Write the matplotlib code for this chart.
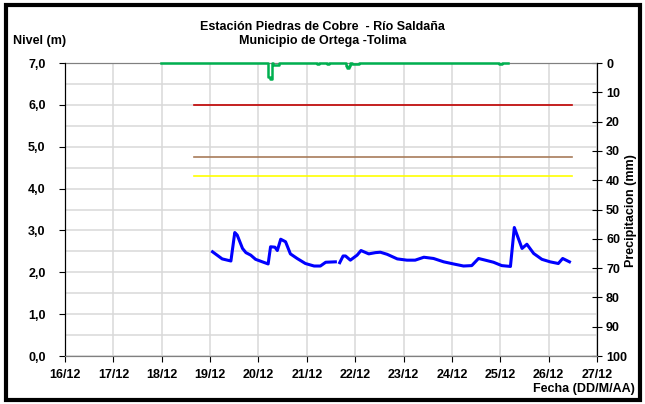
import numpy as np
import matplotlib
matplotlib.use("Agg")
import matplotlib.pyplot as plt
from matplotlib.patches import Rectangle

plt.rcParams['font.family'] = ['Liberation Sans', 'DejaVu Sans']
plt.rcParams['font.weight'] = 'bold'

# nivel del rio (dia de diciembre, m)
nivel_dia = [19.05, 19.25, 19.43, 19.51, 19.56, 19.67, 19.74, 19.84, 19.94, 20.08,
             20.20, 20.25, 20.34, 20.39, 20.46, 20.56, 20.66, 20.80, 20.97, 21.15,
             21.28, 21.39, 21.59, 21.63, 21.68, 21.75, 21.80, 21.90, 22.04, 22.12,
             22.28, 22.42, 22.52, 22.66, 22.87, 23.07, 23.24, 23.42, 23.62, 23.83,
             24.03, 24.24, 24.41, 24.55, 24.69, 24.86, 25.03, 25.21, 25.29, 25.45,
             25.55, 25.69, 25.86, 26.03, 26.20, 26.29, 26.43]
nivel_m = [2.49, 2.32, 2.27, 2.95, 2.89, 2.57, 2.47, 2.41, 2.31, 2.25,
           2.20, 2.61, 2.60, 2.52, 2.79, 2.73, 2.44, 2.33, 2.21, 2.15,
           2.15, 2.24, 2.25, np.nan, 2.23, 2.39, 2.39, 2.29, 2.41, 2.52,
           2.44, 2.47, 2.48, 2.43, 2.32, 2.29, 2.29, 2.36, 2.33, 2.25,
           2.20, 2.15, 2.16, 2.33, 2.29, 2.24, 2.16, 2.14, 3.07, 2.57,
           2.67, 2.45, 2.31, 2.25, 2.21, 2.33, 2.25]

# precipitacion (dia, mm)
precip_dia = [17.98, 20.19, 20.23, 20.27, 20.31, 20.42, 21.20, 21.26, 21.41, 21.45,
              21.80, 21.84, 21.87, 21.90, 21.94, 22.07, 24.98, 25.04, 25.16]
precip_mm = [0.0, 4.7, 5.5, 0.0, 0.8, 0.0, 0.4, 0.0, 0.4, 0.0,
             1.0, 1.8, 1.0, 0.0, 0.4, 0.0, 0.4, 0.0, 0.0]

# niveles de alerta (m)
alerta_dia = [18.66, 26.49]
alerta_roja = 6.0
alerta_naranja = 4.75
alerta_amarilla = 4.3

dias = list(range(16, 28))
etiquetas = ['%d/12' % d for d in dias]
niveles = list(range(8))

fig = plt.figure(figsize=(6.45, 4.04), dpi=100)
fig.add_artist(Rectangle((0.009, 0.011), 0.984, 0.976, transform=fig.transFigure,
                         fill=False, lw=3, ec='black'))
ax = fig.add_axes([0.1008, 0.1188, 0.8248, 0.7252])
ax2 = ax.twinx()

ax.plot(alerta_dia, [alerta_roja] * 2, color='#c00000', lw=1.2)
ax.plot(alerta_dia, [alerta_naranja] * 2, color='#a87c5a', lw=1.2)
ax.plot(alerta_dia, [alerta_amarilla] * 2, color='#ffff00', lw=1.2)
ax.plot(nivel_dia, nivel_m, color='#0000ff', lw=2.2, zorder=5)

ax2.step(precip_dia, precip_mm, where='post', color='#00b050', lw=1.8,
         clip_on=False, zorder=4)

ax.set_xlim(16, 27)
ax.set_ylim(0, 7)
ax.set_xticks(dias)
ax.set_xticklabels(etiquetas)
ax.set_yticks(niveles)
ax.set_yticklabels([('%.1f' % v).replace('.', ',') for v in niveles])
ax.set_yticks(np.arange(0, 7.5, 0.5), minor=True)
ax.grid(True, which='both', color='#d9d9d9', lw=1.1)
ax.set_axisbelow(True)
ax.tick_params(which='minor', left=False)
ax.tick_params(axis='x', labelsize=9, length=4, pad=5)
ax.tick_params(axis='y', labelsize=9, length=4, pad=10)

ax2.set_ylim(100, 0)
ax2.set_yticks(range(0, 101, 10))
ax2.tick_params(labelsize=9, direction='inout', length=7, pad=3)

for a in (ax, ax2):
    a.spines['top'].set_color('#808080')
    a.spines['bottom'].set_color('#808080')
    a.spines['left'].set_color('black')
    a.spines['right'].set_color('black')
ax2.spines['top'].set_zorder(2)

fig.text(0.5, 0.925, 'Estación Piedras de Cobre  - Río Saldaña', ha='center', fontsize=9)
fig.text(0.5, 0.89, 'Municipio de Ortega -Tolima', ha='center', fontsize=9)
fig.text(0.02, 0.89, 'Nivel (m)', ha='left', fontsize=9)
fig.text(0.979, 0.48, 'Precipitacion (mm)', rotation=90, ha='center', va='center', fontsize=9)
fig.text(0.985, 0.03, 'Fecha (DD/M/AA)', ha='right', fontsize=9)

fig.savefig('out.png', dpi=100)
